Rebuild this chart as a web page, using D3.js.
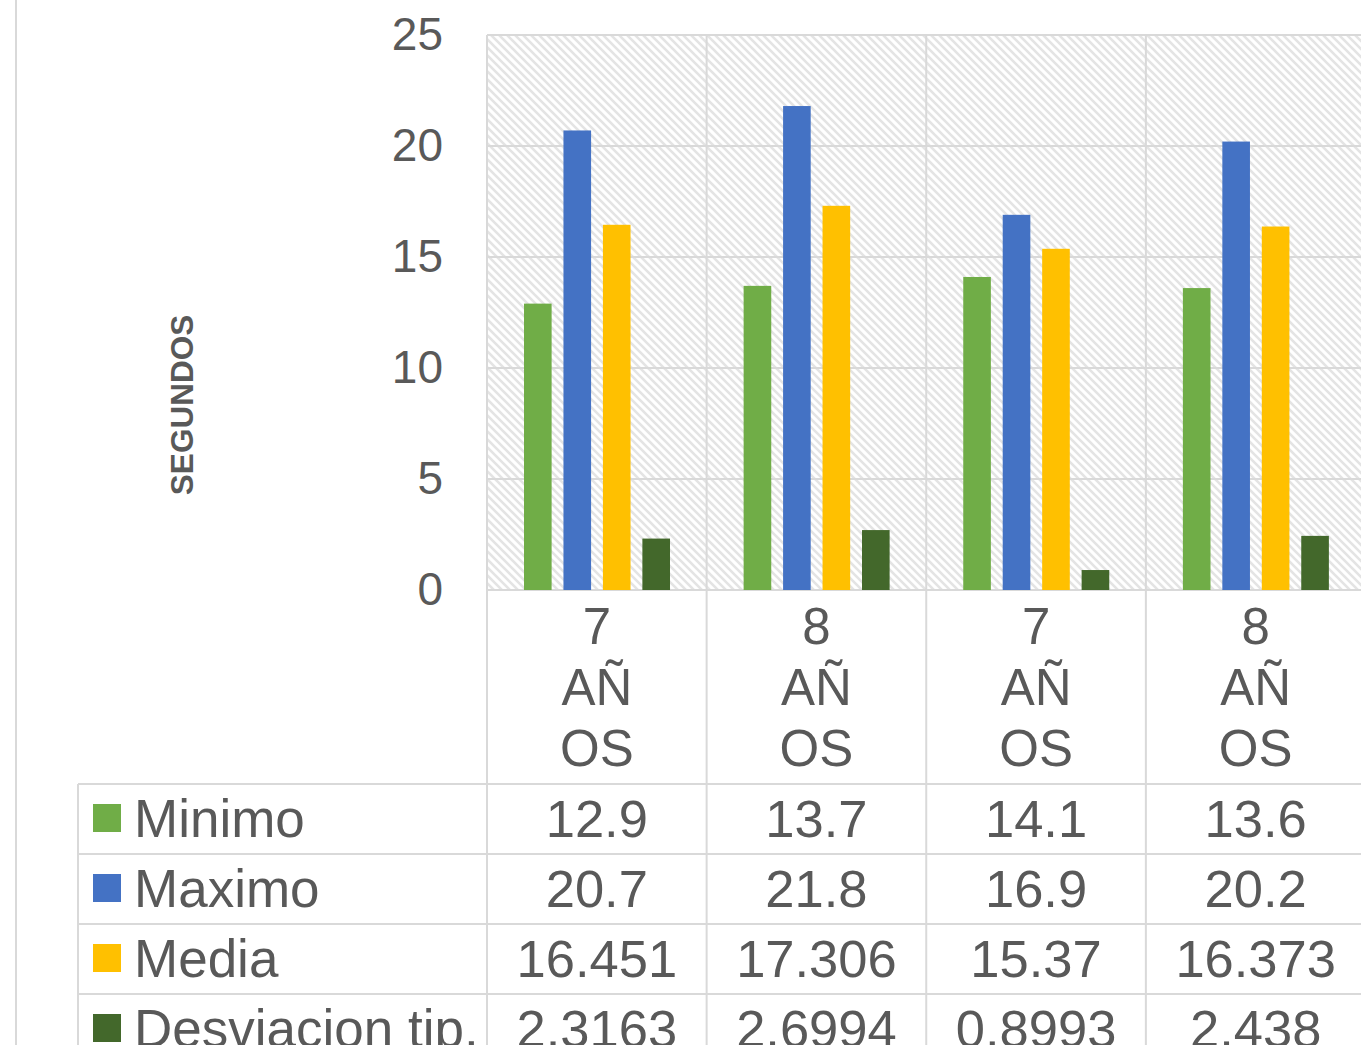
<!DOCTYPE html>
<html>
<head>
<meta charset="utf-8">
<script src="https://cdn.jsdelivr.net/npm/d3@7"></script>
<style>
body { margin: 0; background: #fff; }
text { font-family: "Liberation Sans", Arial, sans-serif; fill: #595959; }
</style>
</head>
<body>
<div id="chart"></div>
<script>
// data
var categories = ["7 AÑOS", "8 AÑOS", "7 AÑOS", "8 AÑOS"]
var categoryLines = [["7", "AÑ", "OS"], ["8", "AÑ", "OS"], ["7", "AÑ", "OS"], ["8", "AÑ", "OS"]]
var seriesNames = ["Minimo", "Maximo", "Media", "Desviacion tip."]
var minimo = [12.9, 13.7, 14.1, 13.6]
var maximo = [20.7, 21.8, 16.9, 20.2]
var media = [16.451, 17.306, 15.37, 16.373]
var desviacion = [2.3163, 2.6994, 0.8993, 2.438]
var tableLabels = [
	["12.9", "13.7", "14.1", "13.6"],
	["20.7", "21.8", "16.9", "20.2"],
	["16.451", "17.306", "15.37", "16.373"],
	["2.3163", "2.6994", "0.8993", "2.438"]
]
var yTicks = [0, 5, 10, 15, 20, 25]
var colors = ["#70ad47", "#4472c4", "#ffc000", "#43682b"]

var values = [minimo, maximo, media, desviacion]

var width = 1361, height = 1045
var plotLeft = 487, plotRight = 1365.5, plotTop = 35, plotBase = 590
var gridColor = "#d9d9d9"
var rowTop = 784, rowH = 70, tableLeft = 78

var svg = d3.select("#chart").append("svg").attr("width", width).attr("height", height)

// hatch pattern for plot area
var pat = svg.append("defs").append("pattern")
	.attr("id", "hatch").attr("patternUnits", "userSpaceOnUse")
	.attr("width", 8).attr("height", 8)
pat.append("rect").attr("width", 8).attr("height", 8).attr("fill", "#fff")
pat.append("path").attr("d", "M-2,-2L10,10M-2,6L2,10M6,-2L10,2")
	.attr("stroke", "#e4e4e4").attr("stroke-width", 2.6)

var x0 = d3.scaleBand().domain(d3.range(categories.length)).range([plotLeft, plotRight])
var x1 = d3.scaleBand().domain(d3.range(seriesNames.length)).range([37, 183]).paddingInner(0.3).paddingOuter(0)
var y = d3.scaleLinear().domain([0, 25]).range([plotBase, plotTop])

// chart border on the left
svg.append("line").attr("x1", 16).attr("x2", 16).attr("y1", 0).attr("y2", height)
	.attr("stroke", gridColor).attr("stroke-width", 2)

svg.append("rect").attr("x", plotLeft).attr("y", plotTop)
	.attr("width", plotRight - plotLeft).attr("height", plotBase - plotTop)
	.attr("fill", "url(#hatch)")

// horizontal gridlines
svg.append("g").selectAll("line").data(yTicks).enter().append("line")
	.attr("x1", plotLeft).attr("x2", plotRight)
	.attr("y1", function(d){return y(d)}).attr("y2", function(d){return y(d)})
	.attr("stroke", gridColor).attr("stroke-width", 2)

// vertical lines between categories (plot + table)
var tableBottom = rowTop + rowH * seriesNames.length
svg.append("g").selectAll("line").data(d3.range(categories.length + 1)).enter().append("line")
	.attr("x1", function(d){return d < categories.length ? x0(d) : plotRight})
	.attr("x2", function(d){return d < categories.length ? x0(d) : plotRight})
	.attr("y1", plotTop).attr("y2", tableBottom)
	.attr("stroke", gridColor).attr("stroke-width", 2)

// bars
var groups = svg.append("g").selectAll("g").data(categories).enter().append("g")
	.attr("transform", function(d, i){return "translate(" + x0(i) + ",0)"})
groups.selectAll("rect").data(function(d, i){return values.map(function(s, j){return {s: j, v: s[i]}})})
	.enter().append("rect")
	.attr("x", function(d){return x1(d.s)})
	.attr("width", x1.bandwidth())
	.attr("y", function(d){return y(d.v)})
	.attr("height", function(d){return plotBase - y(d.v)})
	.attr("fill", function(d){return colors[d.s]})

// y axis
var yAxis = svg.append("g").attr("transform", "translate(" + plotLeft + ",0)")
	.call(d3.axisLeft(y).tickValues(yTicks).tickSize(0).tickPadding(44))
yAxis.select(".domain").remove()
yAxis.selectAll("text").style("font-size", "46px").attr("fill", "#595959")
	.style("font-family", "'Liberation Sans', Arial, sans-serif")

svg.append("text").text("SEGUNDOS")
	.attr("transform", "translate(193,405) rotate(-90)")
	.attr("text-anchor", "middle").style("font-size", "31.5px").style("font-weight", "bold")

// category labels
categoryLines.forEach(function(lines, i) {
	var cx = x0(i) + x0.bandwidth() / 2
	lines.forEach(function(t, k) {
		svg.append("text").text(t).attr("x", cx).attr("y", 644 + k * 61)
			.attr("text-anchor", "middle").style("font-size", "51px")
	})
})

// data table
var rows = svg.append("g")
d3.range(seriesNames.length + 1).forEach(function(r) {
	rows.append("line").attr("x1", tableLeft).attr("x2", plotRight)
		.attr("y1", rowTop + r * rowH).attr("y2", rowTop + r * rowH)
		.attr("stroke", gridColor).attr("stroke-width", 2)
})
rows.append("line").attr("x1", tableLeft).attr("x2", tableLeft)
	.attr("y1", rowTop).attr("y2", tableBottom)
	.attr("stroke", gridColor).attr("stroke-width", 2)

seriesNames.forEach(function(name, r) {
	var ty = rowTop + r * rowH
	rows.append("rect").attr("x", 93).attr("y", ty + 20).attr("width", 28).attr("height", 28)
		.attr("fill", colors[r])
	rows.append("text").text(name).attr("x", 134).attr("y", ty + 53).style("font-size", "53px")
	tableLabels[r].forEach(function(t, i) {
		rows.append("text").text(t).attr("x", x0(i) + x0.bandwidth() / 2).attr("y", ty + 53)
			.attr("text-anchor", "middle").style("font-size", "52.5px")
	})
})
</script>
</body>
</html>
